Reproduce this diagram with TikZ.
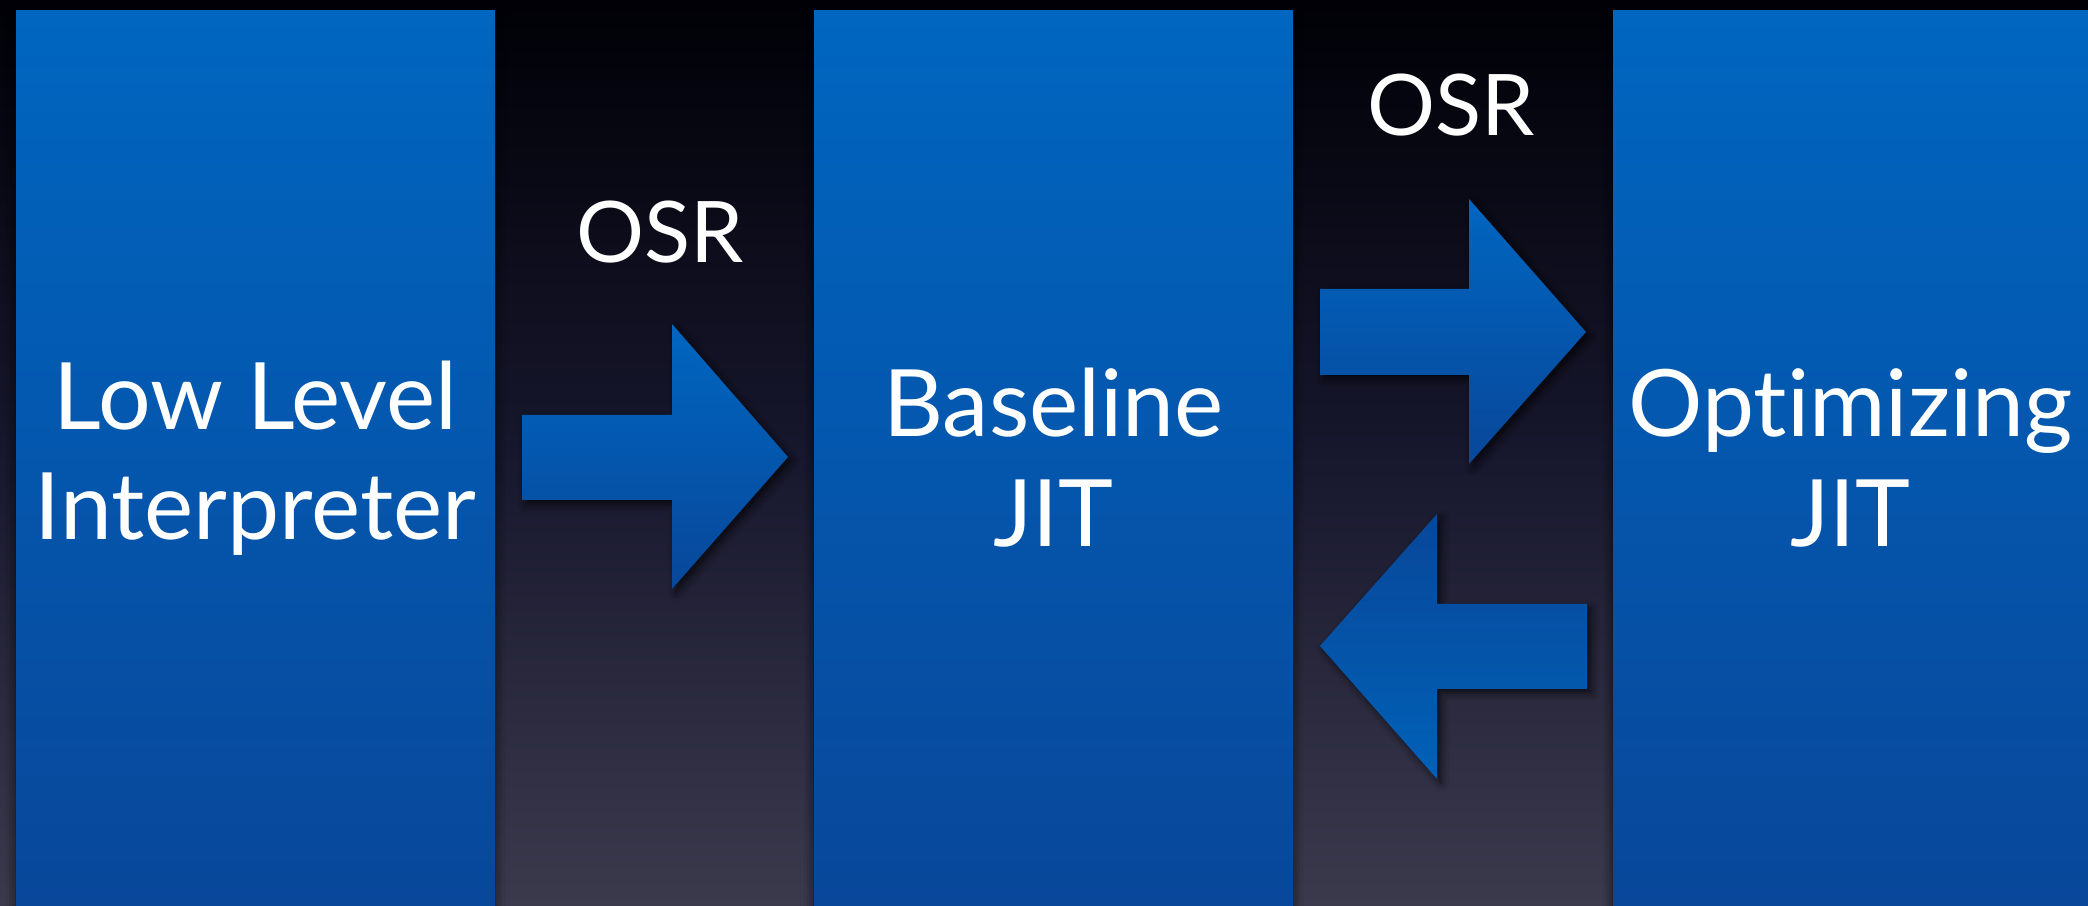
\documentclass[tikz,border=0pt]{standalone}
\usepackage{fontspec}
\setmainfont[Ligatures=NoCommon]{Lato}
\usetikzlibrary{shadows.blur}

\definecolor{stagetop}{HTML}{0066C0}
\definecolor{stagebot}{HTML}{08479A}
\definecolor{bgtop}{HTML}{000006}
\definecolor{bgmid}{HTML}{17172D}
\definecolor{bgbot}{HTML}{3B3A4D}

\tikzset{
  stage/.style={inner sep=0pt, minimum width=479pt, minimum height=894pt,
    top color=stagetop, bottom color=stagebot, text=white, align=center,
    font=\fontsize{93}{110}\selectfont,
    blur shadow={shadow xshift=0pt, shadow yshift=-3pt, shadow blur radius=10pt, shadow opacity=70}},
  osrtext/.style={text=white, font=\fontsize{85}{100}\selectfont, inner sep=0pt, anchor=base},
  fwdarrow/.style={top color=stagetop, bottom color=stagebot,
    blur shadow={shadow xshift=4pt, shadow yshift=-4pt, shadow blur radius=8pt, shadow opacity=70}},
  backarrow/.style={top color=stagebot, bottom color=stagetop!95!black,
    blur shadow={shadow xshift=4pt, shadow yshift=-4pt, shadow blur radius=8pt, shadow opacity=70}},
}

\begin{document}
\begin{tikzpicture}[x=1pt,y=1pt]
  \shade[top color=bgtop, bottom color=bgbot, middle color=bgmid] (0,0) rectangle (2088,905);
  \useasboundingbox (0,0) rectangle (2088,905);

  % the three tiers
  \node[stage] (llint) at (255.5,447) {Low Level\\Interpreter};
  \node[stage] (baseline) at (1053.5,447) {Baseline\\JIT};
  \node[stage, minimum width=475pt] (dfg) at (1850.5,447) {Optimizing\\JIT};

  % OSR labels
  \node[osrtext] (osrup) at (660,642) {OSR};
  \node[osrtext] (osrtop) at (1451,769) {OSR};

  % block arrows
  \path[fwdarrow] (522,405) -- (672,405) -- (672,316) -- (788,448)
    -- (672,581) -- (672,490) -- (522,490) -- cycle;
  \path[fwdarrow] (1320,530) -- (1469,530) -- (1469,441) -- (1586,573)
    -- (1469,706) -- (1469,616) -- (1320,616) -- cycle;
  \path[backarrow] (1587,216) -- (1437,216) -- (1437,126) -- (1320,259)
    -- (1437,391) -- (1437,301) -- (1587,301) -- cycle;
\end{tikzpicture}
\end{document}
